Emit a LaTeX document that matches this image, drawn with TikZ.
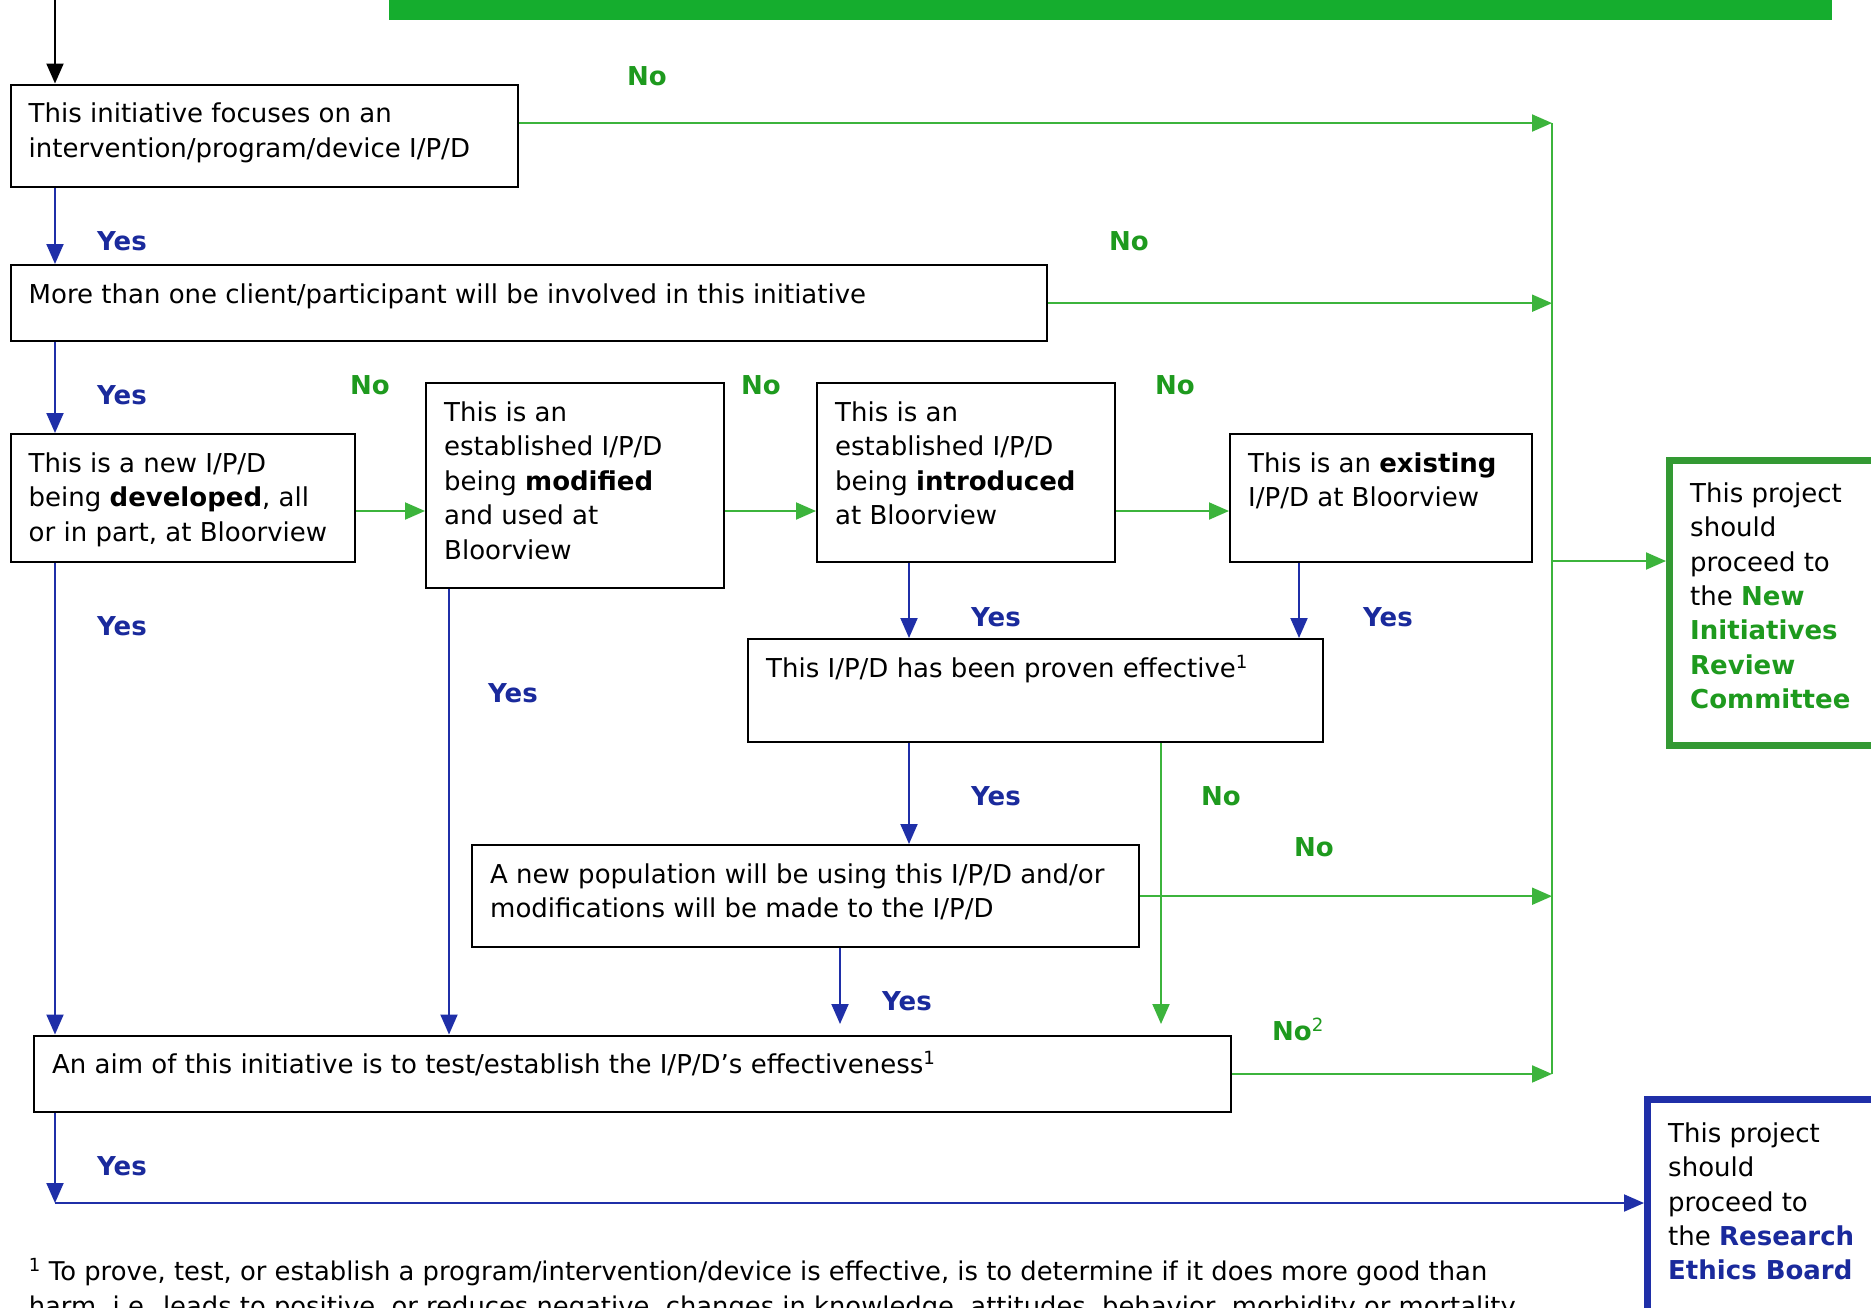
\documentclass[tikz,border=0pt]{standalone}
\usepackage{fontspec}
\setmainfont{DejaVu Sans}
\usetikzlibrary{arrows.meta,calc}
\definecolor{lblue}{HTML}{1F2FA8}
\definecolor{tblue}{HTML}{1A2A9C}
\definecolor{lgreen}{HTML}{3CB43C}
\definecolor{tgreen}{HTML}{1E9A1E}
\definecolor{bannergreen}{HTML}{15AD2E}
\begin{document}
\begin{tikzpicture}[x=1pt,y=-1pt,
  boxed/.style={draw=black,line width=2.4pt,fill=white,rectangle,anchor=north west,inner sep=0pt},
  txt/.style={anchor=north west,inner sep=0pt,align=left,font=\fontsize{26}{34.4}\selectfont},
  bl/.style={draw=lblue,line width=2pt,-{Triangle[length=20pt,width=17pt]}},
  gr/.style={draw=lgreen,line width=2pt,-{Triangle[length=20pt,width=17pt]}},
  grline/.style={draw=lgreen,line width=2pt},
  yes/.style={font=\fontsize{26}{30}\selectfont\bfseries,text=tblue,inner sep=0pt},
  no/.style={font=\fontsize{26}{30}\selectfont\bfseries,text=tgreen,inner sep=0pt},
]
\useasboundingbox (0,0) rectangle (1871,1307);
\fill[white] (0,0) rectangle (1871,1307);
% banner
\fill[bannergreen] (389,-5) rectangle (1832,20);

% boxes
\node[boxed,minimum width=507pt,minimum height=102.5pt] (b1) at (9.5,83.5) {};
\node[boxed,minimum width=1036.5pt,minimum height=76pt] (b2) at (9.5,264) {};
\node[boxed,minimum width=344.5pt,minimum height=128pt] (b3) at (9.5,433) {};
\node[boxed,minimum width=298pt,minimum height=205pt] (b4) at (425,382) {};
\node[boxed,minimum width=298pt,minimum height=179pt] (b5) at (816,382) {};
\node[boxed,minimum width=302pt,minimum height=128pt] (b6) at (1229,433) {};
\node[boxed,minimum width=575pt,minimum height=103pt] (b7) at (747,638) {};
\node[boxed,minimum width=667pt,minimum height=102pt] (b8) at (471,844) {};
\node[boxed,minimum width=1197pt,minimum height=76.5pt] (b9) at (33,1034.5) {};
\node[boxed,draw=lgreen!85!black,line width=7pt,minimum width=260pt,minimum height=285pt] (nirc) at (1666,457) {};
\node[boxed,draw=lblue,line width=7pt,minimum width=280pt,minimum height=260pt] (reb) at (1644,1096) {};

% texts
\node[txt] (t1) at ($(b1.north west)+(19,15.2)$) {\strut This initiative focuses on an\\intervention/program/device I/P/D};
\node[txt] (t2) at ($(b2.north west)+(19,15.2)$) {\strut More than one client/participant will be involved in this initiative};
\node[txt] (t3) at ($(b3.north west)+(19,15.2)$) {\strut This is a new I/P/D\\being \textbf{developed}, all\\or in part, at Bloorview};
\node[txt] (t4) at ($(b4.north west)+(19,15.2)$) {\strut This is an\\established I/P/D\\being \textbf{modified}\\and used at\\Bloorview};
\node[txt] (t5) at ($(b5.north west)+(19,15.2)$) {\strut This is an\\established I/P/D\\being \textbf{introduced}\\at Bloorview};
\node[txt] (t6) at ($(b6.north west)+(19,15.2)$) {\strut This is an \textbf{existing}\\I/P/D at Bloorview};
\node[txt] (t7) at ($(b7.north west)+(19,15.2)$) {\strut This I/P/D has been proven effective\textsuperscript{1}};
\node[txt] (t8) at ($(b8.north west)+(19,15.2)$) {\strut A new population will be using this I/P/D and/or\\modifications will be made to the I/P/D};
\node[txt] (t9) at ($(b9.north west)+(19,15.2)$) {\strut An aim of this initiative is to test/establish the I/P/D’s effectiveness\textsuperscript{1}};
\node[txt] (tn) at ($(nirc.north west)+(24,21)$) {\strut This project\\should\\proceed to\\the \textbf{\color{tgreen}New}\\\textbf{\color{tgreen}Initiatives}\\\textbf{\color{tgreen}Review}\\\textbf{\color{tgreen}Committee}};
\node[txt] (tr) at ($(reb.north west)+(24,22)$) {\strut This project\\should\\proceed to\\the \textbf{\color{tblue}Research}\\\textbf{\color{tblue}Ethics Board}};

% footnote
\node[txt,font=\fontsize{25.8}{35}\selectfont] (fn) at (28.6,1256) {\strut\textsuperscript{1} To prove, test, or establish a program/intervention/device is effective, is to determine if it does more good than\\harm, i.e. leads to positive, or reduces negative, changes in knowledge, attitudes, behavior, morbidity or mortality};

% helper coordinates
\coordinate (xL) at (55,0);
\coordinate (xM) at (449,0);
\coordinate (xP) at (909,0);
\coordinate (xE) at (1299,0);
\coordinate (xN) at (1161,0);
\coordinate (xA) at (840,0);
\coordinate (yH) at (0,511);
\coordinate (vt) at (1552,123);
\coordinate (vb) at (1552,1074);
\coordinate (vm) at (1552,561);
\coordinate (start) at (55,-5);
\coordinate (endA) at (840,1024);
\coordinate (endN) at (1161,1024);
\coordinate (bot) at (55,1203);

% black entry arrow
\draw[draw=black,line width=2pt,-{Triangle[length=20pt,width=17pt]}] (start) -- (b1.north -| xL);

% blue connectors
\draw[bl] (b1.south -| xL) -- (b2.north -| xL);
\draw[bl] (b2.south -| xL) -- (b3.north -| xL);
\draw[bl] (b3.south -| xL) -- (b9.north -| xL);
\draw[bl] (b4.south -| xM) -- (b9.north -| xM);
\draw[bl] (b5.south -| xP) -- (b7.north -| xP);
\draw[bl] (b6.south -| xE) -- (b7.north -| xE);
\draw[bl] (b7.south -| xP) -- (b8.north -| xP);
\draw[bl] (b8.south -| xA) -- (endA);
\draw[bl] (b9.south -| xL) -- (bot);
\draw[bl] (bot) -- (reb.west |- bot);

% green connectors
\draw[grline] (vt) -- (vb);
\draw[gr] (b1.east |- vt) -- (vt);
\draw[gr] (b2.east) -- (b2.east -| vt);
\draw[gr] (b3.east |- yH) -- (b4.west |- yH);
\draw[gr] (b4.east |- yH) -- (b5.west |- yH);
\draw[gr] (b5.east |- yH) -- (b6.west |- yH);
\draw[gr] (b7.south -| xN) -- (endN);
\draw[gr] (b8.east) -- (b8.east -| vt);
\draw[gr] (b9.east) -- (b9.east -| vt);
\draw[gr] (vm) -- (nirc.west |- vm);

% labels
\node[no] (l1) at (647,76) {No};
\node[yes] (l2) at (122,241) {Yes};
\node[no] (l3) at (1129,241) {No};
\node[yes] (l4) at (122,395) {Yes};
\node[no] (l5) at (370,385) {No};
\node[no] (l6) at (761,385) {No};
\node[no] (l7) at (1175,385) {No};
\node[yes] (l8) at (122,626) {Yes};
\node[yes] (l9) at (513,693) {Yes};
\node[yes] (l10) at (996,617) {Yes};
\node[yes] (l11) at (1388,617) {Yes};
\node[yes] (l12) at (996,796) {Yes};
\node[no] (l13) at (1221,796) {No};
\node[no] (l14) at (1314,847) {No};
\node[yes] (l15) at (907,1001) {Yes};
\node[no,anchor=west] (l16) at (1272,1029) {No\textsuperscript{\mdseries 2}};
\node[yes] (l17) at (122,1166) {Yes};
\end{tikzpicture}
\end{document}
